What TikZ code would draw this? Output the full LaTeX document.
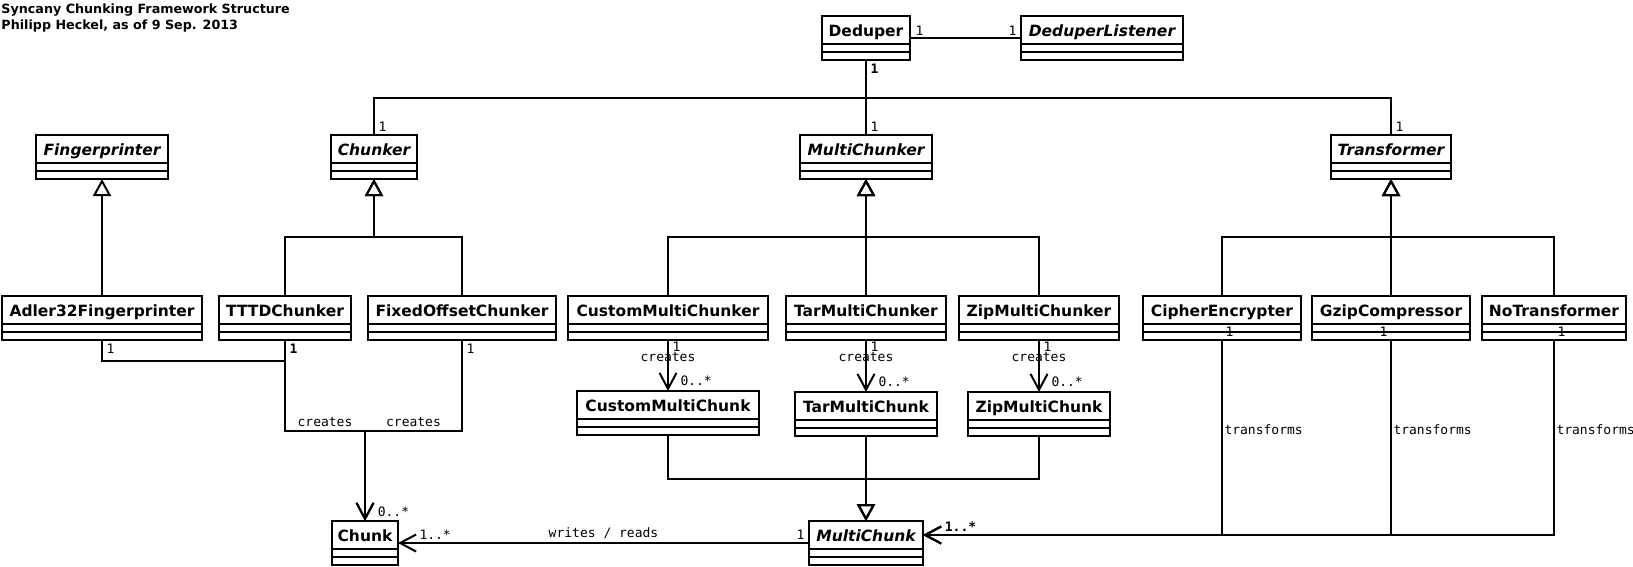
\documentclass[tikz,border=0pt]{standalone}
\usepackage{fontspec}
\setmainfont{DejaVu Sans}
\setmonofont{DejaVu Sans Mono}
\usetikzlibrary{arrows.meta,positioning}

\begin{document}
\begin{tikzpicture}[x=1pt,y=-1pt,line width=2pt,
    class node/.style={draw,line width=2pt,anchor=north,outer sep=0pt,inner xsep=2pt,inner ysep=0pt,
      text height=20pt,text depth=24pt,font=\fontsize{15.5}{18}\selectfont\bfseries,
      path picture={\draw[line width=2pt]
        ([yshift=-28pt]path picture bounding box.north west) -- ([yshift=-28pt]path picture bounding box.north east)
        ([yshift=-36pt]path picture bounding box.north west) -- ([yshift=-36pt]path picture bounding box.north east);}},
    abstract node/.style={class node,font=\fontsize{15.5}{18}\selectfont\bfseries\itshape},
    mult/.style={font=\fontsize{13}{15}\selectfont\ttfamily,inner sep=1.5pt},
    mult bold/.style={mult,font=\fontsize{13}{15}\selectfont\ttfamily\bfseries},
    inherit/.style={-{Triangle[open,length=17pt,width=18pt]}},
    assoc/.style={-{Straight Barb[length=16pt,width=17pt]}}]

  \useasboundingbox (0,0) rectangle (1633,566);

  \node[anchor=north west,inner sep=0pt,align=left,font=\fontsize{12.7}{16}\selectfont\bfseries] (title) at (0.5,2.6)
    {Syncany Chunking Framework Structure\\Philipp Heckel, as of 9 Sep. 2013};

  \node[class node,minimum width=88pt]     (deduper)       at (866,16)   {Deduper};
  \node[abstract node,minimum width=162pt] (listener)      at (1102,16)  {DeduperListener};
  \node[abstract node,minimum width=132pt] (fingerprinter) at (102,135)  {Fingerprinter};
  \node[abstract node,minimum width=86pt]  (chunker)       at (374,135)  {Chunker};
  \node[abstract node,minimum width=132pt] (multichunker)  at (866,135)  {MultiChunker};
  \node[abstract node,minimum width=120pt] (transformer)   at (1391,135) {Transformer};
  \node[class node,minimum width=200pt]    (adler)         at (102,296)  {Adler32Fingerprinter};
  \node[class node,minimum width=132pt]    (tttd)          at (285,296)  {TTTDChunker};
  \node[class node,minimum width=188pt]    (fixed)         at (462,296)  {FixedOffsetChunker};
  \node[class node,minimum width=200pt]    (custommc)      at (668,296)  {CustomMultiChunker};
  \node[class node,minimum width=160pt]    (tarmc)         at (866,296)  {TarMultiChunker};
  \node[class node,minimum width=160pt]    (zipmc)         at (1039,296) {ZipMultiChunker};
  \node[class node,minimum width=158pt]    (cipher)        at (1222,296) {CipherEncrypter};
  \node[class node,minimum width=158pt]    (gzip)          at (1391,296) {GzipCompressor};
  \node[class node,minimum width=144pt]    (notrans)       at (1554,296) {NoTransformer};
  \node[class node,minimum width=182pt]    (customchunk)   [below=51pt of custommc] {CustomMultiChunk};
  \node[class node,minimum width=142pt]    (tarchunk)      [below=52pt of tarmc]    {TarMultiChunk};
  \node[class node,minimum width=142pt]    (zipchunk)      [below=52pt of zipmc]    {ZipMultiChunk};
  \node[class node,minimum width=66pt]     (chunk)         at (365,521)  {Chunk};
  \node[abstract node,minimum width=114pt] (multichunk)    at (866,521)  {MultiChunk};

  \coordinate (topbus)     at (866,98);
  \coordinate (chunkerbus) at (374,237);
  \coordinate (mcbus)      at (866,237);
  \coordinate (transbus)   at (1391,237);
  \coordinate (mchunkbus)  at (866,479);
  \coordinate (chunkjoin)  at (365,431);
  \coordinate (mcin)       at ([yshift=8pt]multichunk.east);

  \draw (deduper.east) -- node[mult,pos=0,anchor=south west,xshift=3pt] {1}
                          node[mult,pos=1,anchor=south east,xshift=-2pt] {1} (listener.west);
  \draw (deduper.south) -- node[mult bold,pos=0,anchor=north west,xshift=2pt,yshift=-1.3pt] {1}
                           node[mult,pos=1,anchor=south west,xshift=2pt,yshift=1.5pt] {1} (multichunker.north);
  \draw (deduper.south) -- (topbus) -| node[mult,pos=1,anchor=south west,xshift=2pt,yshift=1.5pt] {1} (chunker.north);
  \draw (deduper.south) -- (topbus) -| node[mult,pos=1,anchor=south west,xshift=2pt,yshift=1.5pt] {1} (transformer.north);

  \draw[inherit] (adler.north) -- (fingerprinter.south);
  \draw[inherit] (tttd.north) |- (chunkerbus) -- (chunker.south);
  \draw[inherit] (fixed.north) |- (chunkerbus) -- (chunker.south);
  \draw[inherit] (custommc.north) |- (mcbus) -- (multichunker.south);
  \draw[inherit] (tarmc.north) |- (mcbus) -- (multichunker.south);
  \draw[inherit] (zipmc.north) |- (mcbus) -- (multichunker.south);
  \draw[inherit] (cipher.north) |- (transbus) -- (transformer.south);
  \draw[inherit] (gzip.north) |- (transbus) -- (transformer.south);
  \draw[inherit] (notrans.north) |- (transbus) -- (transformer.south);
  \draw[inherit] (customchunk.south) |- (mchunkbus) -- (multichunk.north);
  \draw[inherit] (tarchunk.south) |- (mchunkbus) -- (multichunk.north);
  \draw[inherit] (zipchunk.south) |- (mchunkbus) -- (multichunk.north);

  \draw (adler.south) -- node[mult,pos=0,anchor=north west,xshift=2pt,yshift=-2pt] {1} ++(0,21)
     -| node[mult bold,pos=1,anchor=north west,xshift=2pt,yshift=-2pt] {1} (tttd.south);
  \draw[assoc] (tttd.south) |- node[mult,pos=.75,above,yshift=2pt] {creates} (chunkjoin) -- (chunk.north);
  \draw[assoc] (fixed.south) |- node[mult,pos=0,anchor=north west,xshift=2pt,yshift=-2pt] {1}
                                node[mult,pos=.75,above,yshift=2pt] {creates} (chunkjoin)
     -- node[mult,pos=1,anchor=south west,xshift=10.3pt,yshift=1.5pt] {0..*} (chunk.north);

  \draw[assoc] (custommc.south) -- node[mult,pos=0,anchor=north west,xshift=2pt] {1} node[mult,pos=.33] {creates}
     node[mult,pos=1,anchor=south west,xshift=10pt,yshift=3pt] {0..*} (customchunk.north);
  \draw[assoc] (tarmc.south) -- node[mult,pos=0,anchor=north west,xshift=2pt] {1} node[mult,pos=.33] {creates}
     node[mult,pos=1,anchor=south west,xshift=10pt,yshift=3pt] {0..*} (tarchunk.north);
  \draw[assoc] (zipmc.south) -- node[mult,pos=0,anchor=north west,xshift=2pt] {1} node[mult,pos=.33] {creates}
     node[mult,pos=1,anchor=south west,xshift=10pt,yshift=3pt] {0..*} (zipchunk.north);

  \draw[assoc] (multichunk.west) -- node[mult,above,yshift=2pt] {writes / reads}
     node[mult,pos=0,anchor=south east,xshift=-2pt,yshift=1.5pt] {1}
     node[mult,pos=1,anchor=south west,xshift=19pt,yshift=1.5pt] {1..*} (chunk.east);

  \draw[assoc] (cipher.south) |- node[mult,pos=0,xshift=7.5pt,yshift=8.5pt] {1} node[mult,pos=.23,right] {transforms}
     node[mult bold,pos=1,anchor=south west,xshift=19.4pt,yshift=1.5pt] {1..*} (mcin);
  \draw[assoc] (gzip.south) |- node[mult,pos=0,xshift=-7.5pt,yshift=8.5pt] {1} node[mult,pos=.23,right] {transforms} (mcin);
  \draw[assoc] (notrans.south) |- node[mult,pos=0,xshift=7.5pt,yshift=8.5pt] {1} node[mult,pos=.23,right] {transforms} (mcin);

\end{tikzpicture}
\end{document}
